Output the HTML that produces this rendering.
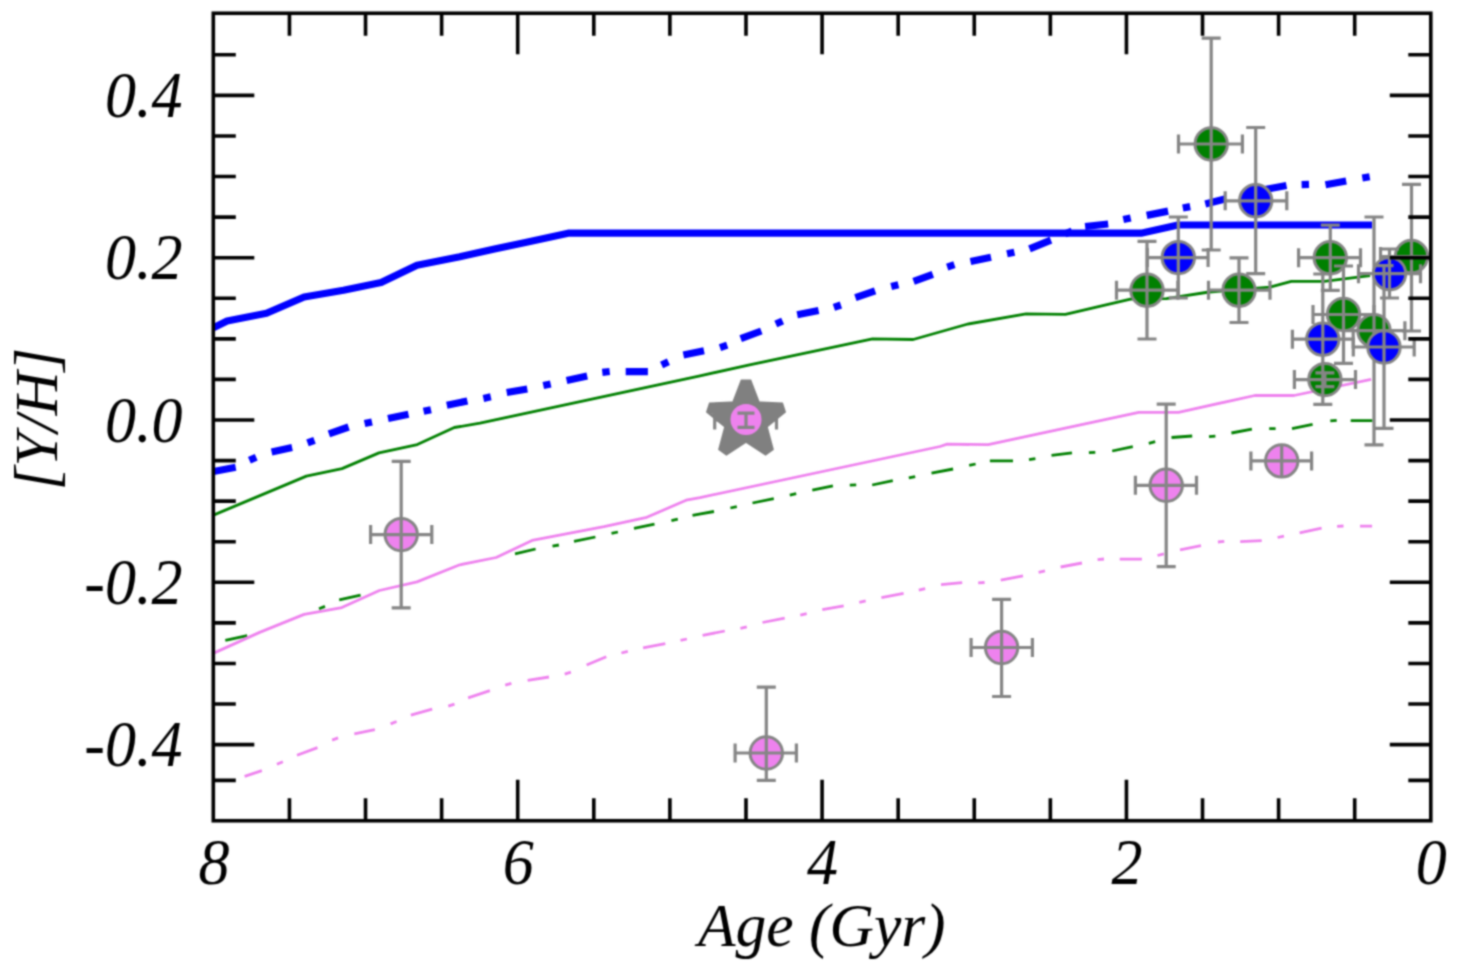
<!DOCTYPE html>
<html><head><meta charset="utf-8"><style>
html,body{margin:0;padding:0;background:#fff;overflow:hidden}
svg{display:block}
text{font-family:'Liberation Serif',serif;font-style:italic;fill:#000}
</style></head><body>
<svg width="1461" height="971" viewBox="0 0 1461 971">
<defs><filter id="bl" x="0" y="0" width="1461" height="971" filterUnits="userSpaceOnUse" color-interpolation-filters="sRGB"><feConvolveMatrix order="5" kernelMatrix="0.00048 0.00501 0.01095 0.00501 0.00048 0.00501 0.05222 0.11405 0.05222 0.00501 0.01095 0.11405 0.24912 0.11405 0.01095 0.00501 0.05222 0.11405 0.05222 0.00501 0.00048 0.00501 0.01095 0.00501 0.00048" edgeMode="duplicate"/></filter></defs>
<rect width="1461" height="971" fill="#fff"/>
<g filter="url(#bl)">
<clipPath id="cp"><rect x="213.3" y="13.25" width="1217.5" height="807.5"/></clipPath>
<g clip-path="url(#cp)">
<path d="M213.3 327.8L227.1 321.0L266.5 313.3L304.1 297.0L343.5 290.2L381.1 282.5L417.0 265.3L459.8 256.8L494.5 249.0L525.3 242.5L568.1 233.2L1141.0 233.2L1178.0 225.0L1372.0 225.0" fill="none" stroke="#0000ff" stroke-width="7.2" stroke-linejoin="round"/>
<path d="M213.4 471.5L235.7 467.3M249.4 460.2L256.2 457.2M271.6 451.9L292.1 447.6M307.5 442.9L314.5 440.3M328.9 433.9L348.6 427.0M364.6 423.6L372.0 422.0M388.0 418.5L408.5 414.2M423.6 411.3L431.0 409.7M446.8 405.3L467.4 401.0M483.4 398.4L490.8 396.8M506.7 392.5L527.3 389.0M543.3 385.6L550.7 384.0M566.6 380.5L587.2 375.9M602.3 372.3L609.7 371.5M625.7 371.6L647.9 371.6M661.6 365.0L668.4 361.8M683.4 355.0L704.0 350.7M720.0 347.6L727.2 345.2M740.7 338.7L761.3 331.0M775.8 324.0L782.6 321.0M797.2 314.8L818.6 310.5M833.9 307.4L840.9 305.0M855.4 297.6L875.1 290.8M891.2 286.6L898.4 284.8M913.6 281.4L932.8 274.4M947.2 267.1L954.4 264.7M970.5 261.6L991.0 257.3M1007.0 253.8L1014.4 252.2M1029.5 248.8L1050.9 240.2M1065.0 233.9L1072.0 231.1M1085.1 226.5L1108.2 224.0M1123.3 219.6L1130.7 218.0M1146.7 215.4L1168.1 211.1M1182.8 208.0L1190.2 206.6M1205.3 203.9L1225.5 198.8M1241.3 195.4L1248.7 193.6M1265.0 189.5L1286.5 185.5M1301.6 184.6L1309.0 184.4M1325.5 184.8L1346.2 181.0M1362.3 178.0L1369.7 176.8" fill="none" stroke="#0000ff" stroke-width="7.2"/>
<path d="M214.1 514.9L306.4 476.1L342.0 468.6L379.0 452.9L417.3 444.6L454.3 427.5L480.0 423.2L700.0 375.8L748.4 365.2L872.5 338.8L913.2 339.5L967.9 324.0L1026.1 313.8L1065.4 314.3L1130.5 299.2L1166.4 298.6L1209.1 292.0L1270.0 287.1L1291.3 281.4L1324.1 281.4L1370.1 275.6" fill="none" stroke="#008000" stroke-width="2.8" stroke-linejoin="round"/>
<path d="M225.3 640.4L247.2 635.7M319.0 608.8L325.0 606.4M339.2 599.9L360.6 595.1M515.0 553.8L535.6 549.0M552.5 546.2L558.9 545.0M574.0 541.3L595.4 537.0M611.5 533.4L617.9 532.0M634.0 528.4L654.5 524.2M671.4 520.6L677.8 519.2M692.5 515.3L714.0 511.5M730.4 508.0L736.8 506.6M752.5 503.0L773.8 498.7M789.8 495.1L796.2 493.7M812.3 490.2L832.9 485.9M849.8 485.1L856.2 484.9M872.2 485.0L892.8 480.7M908.8 477.9L915.2 476.7M931.5 473.1L953.1 469.0M969.2 465.4L975.6 464.0M989.9 460.9L1013.0 460.9M1029.0 459.7L1035.4 458.7M1051.5 455.3L1072.0 452.9M1088.9 452.7L1095.3 452.3M1112.2 451.0L1132.8 446.7M1148.8 443.3L1155.2 441.7M1171.5 437.5L1192.2 436.0M1209.0 436.6L1215.4 436.2M1231.4 433.0L1251.9 429.1M1269.2 428.6L1275.6 428.6M1292.0 428.6L1312.6 424.3M1330.3 420.9L1336.7 420.3M1350.7 420.7L1372.4 420.7" fill="none" stroke="#008000" stroke-width="2.8"/>
<path d="M214.3 652.9L259.6 632.4L304.1 614.4L341.8 607.6L379.4 590.5L417.0 581.9L459.8 564.8L496.2 557.5L532.1 540.4L604.0 526.7L646.8 517.3L686.1 500.2L700.0 497.6L940.0 446.5L947.1 444.2L988.2 444.7L1138.8 412.3L1178.5 412.3L1254.8 395.5L1294.0 395.5L1371.2 379.3" fill="none" stroke="#ee82ee" stroke-width="2.8" stroke-linejoin="round"/>
<path d="M244.6 776.3L261.9 770.7M276.9 764.3L282.9 761.7M297.0 755.3L317.5 747.6M332.1 740.1L338.1 737.9M354.3 733.9L374.9 729.6M390.6 723.9L396.6 721.5M410.8 715.1L432.2 709.1M448.3 706.2L454.5 704.2M468.1 697.9L489.9 690.7M505.2 685.1L511.4 683.3M527.6 680.4L549.0 677.0M564.7 674.1L570.9 672.1M586.6 665.0L606.3 656.8M621.4 653.0L627.8 651.4M643.1 647.9L665.3 643.6M680.5 640.4L686.9 639.0M702.6 635.3L724.8 631.0M740.4 628.3L746.8 626.9M762.5 622.5L784.7 618.2M800.3 615.1L806.7 613.7M822.3 609.6L843.7 605.9M859.3 602.3L865.7 600.9M881.4 597.6L903.6 593.4M918.8 590.1L925.2 588.7M941.0 584.6L962.2 582.7M978.2 582.9L984.6 582.5M1000.7 580.2L1023.0 575.9M1038.6 572.3L1045.0 570.9M1060.6 567.0L1082.0 563.0M1097.6 559.6L1104.0 559.0M1119.7 559.1L1141.9 559.1M1157.5 555.5L1163.9 553.9M1180.0 549.8L1201.0 545.6M1217.9 542.0L1224.3 541.4M1240.2 541.7L1261.7 540.7M1277.6 537.5L1284.0 536.1M1299.6 532.8L1321.6 528.2M1337.1 526.4L1343.5 526.0M1360.0 526.2L1372.1 526.2" fill="none" stroke="#ee82ee" stroke-width="2.8"/>
<circle cx="1211.2" cy="144" r="16.2" fill="#008000" stroke="#858585" stroke-width="3.0"/>
<path d="M1178.5 144.0H1242.4M1178.5 134.5V153.5M1242.4 134.5V153.5M1211.2 38.1V250.0M1201.7 38.1H1220.7M1201.7 250.0H1220.7" fill="none" stroke="#858585" stroke-width="3.2"/>
<circle cx="1147" cy="290.2" r="16.2" fill="#008000" stroke="#858585" stroke-width="3.0"/>
<path d="M1116.5 290.2H1177.9M1116.5 280.7V299.7M1177.9 280.7V299.7M1147.0 241.4V339.0M1137.5 241.4H1156.5M1137.5 339.0H1156.5" fill="none" stroke="#858585" stroke-width="3.2"/>
<circle cx="1239" cy="290.2" r="16.2" fill="#008000" stroke="#858585" stroke-width="3.0"/>
<path d="M1208.5 290.2H1270.0M1208.5 280.7V299.7M1270.0 280.7V299.7M1239.0 257.9V322.5M1229.5 257.9H1248.5M1229.5 322.5H1248.5" fill="none" stroke="#858585" stroke-width="3.2"/>
<circle cx="1330.3" cy="257.7" r="16.2" fill="#008000" stroke="#858585" stroke-width="3.0"/>
<path d="M1298.6 257.7H1360.5M1298.6 248.2V267.2M1360.5 248.2V267.2M1330.3 225.2V290.4M1320.8 225.2H1339.8M1320.8 290.4H1339.8" fill="none" stroke="#858585" stroke-width="3.2"/>
<circle cx="1411.5" cy="256.5" r="16.2" fill="#008000" stroke="#858585" stroke-width="3.0"/>
<path d="M1380.5 256.5H1442.0M1380.5 247.0V266.0M1442.0 247.0V266.0M1411.5 184.3V331.0M1402.0 184.3H1421.0M1402.0 331.0H1421.0" fill="none" stroke="#858585" stroke-width="3.2"/>
<circle cx="1343.5" cy="314.5" r="16.2" fill="#008000" stroke="#858585" stroke-width="3.0"/>
<path d="M1313.0 314.5H1374.0M1313.0 305.0V324.0M1374.0 305.0V324.0M1343.5 266.0V363.4M1334.0 266.0H1353.0M1334.0 363.4H1353.0" fill="none" stroke="#858585" stroke-width="3.2"/>
<circle cx="1374" cy="330.7" r="16.2" fill="#008000" stroke="#858585" stroke-width="3.0"/>
<path d="M1343.5 330.7H1404.9M1343.5 321.2V340.2M1404.9 321.2V340.2M1374.0 217.0V444.9M1364.5 217.0H1383.5M1364.5 444.9H1383.5" fill="none" stroke="#858585" stroke-width="3.2"/>
<circle cx="1324.9" cy="379.6" r="16.2" fill="#008000" stroke="#858585" stroke-width="3.0"/>
<path d="M1294.4 379.6H1355.5M1294.4 370.1V389.1M1355.5 370.1V389.1M1324.9 372.8V386.7M1315.4 372.8H1334.4M1315.4 386.7H1334.4" fill="none" stroke="#858585" stroke-width="3.2"/>
<circle cx="1255.7" cy="200.8" r="16.2" fill="#0000ff" stroke="#858585" stroke-width="3.0"/>
<path d="M1225.2 200.8H1286.8M1225.2 191.3V210.3M1286.8 191.3V210.3M1255.7 127.5V273.7M1246.2 127.5H1265.2M1246.2 273.7H1265.2" fill="none" stroke="#858585" stroke-width="3.2"/>
<circle cx="1178.3" cy="257.6" r="16.2" fill="#0000ff" stroke="#858585" stroke-width="3.0"/>
<path d="M1147.4 257.6H1208.1M1147.4 248.1V267.1M1208.1 248.1V267.1M1178.3 217.0V297.8M1168.8 217.0H1187.8M1168.8 297.8H1187.8" fill="none" stroke="#858585" stroke-width="3.2"/>
<circle cx="1389.5" cy="273.7" r="16.2" fill="#0000ff" stroke="#858585" stroke-width="3.0"/>
<path d="M1358.5 273.7H1420.5M1358.5 264.2V283.2M1420.5 264.2V283.2M1389.5 249.0V298.0M1380.0 249.0H1399.0M1380.0 298.0H1399.0" fill="none" stroke="#858585" stroke-width="3.2"/>
<circle cx="1322.8" cy="339.2" r="16.2" fill="#0000ff" stroke="#858585" stroke-width="3.0"/>
<path d="M1292.4 339.2H1353.2M1292.4 329.7V348.7M1353.2 329.7V348.7M1322.8 274.0V404.3M1313.3 274.0H1332.3M1313.3 404.3H1332.3" fill="none" stroke="#858585" stroke-width="3.2"/>
<circle cx="1384" cy="347" r="16.2" fill="#0000ff" stroke="#858585" stroke-width="3.0"/>
<path d="M1353.3 347.0H1414.2M1353.3 337.5V356.5M1414.2 337.5V356.5M1384.0 265.6V428.4M1374.5 265.6H1393.5M1374.5 428.4H1393.5" fill="none" stroke="#858585" stroke-width="3.2"/>
<circle cx="401.2" cy="534.6" r="16.2" fill="#ee82ee" stroke="#858585" stroke-width="3.0"/>
<path d="M370.6 534.6H431.8M370.6 525.1V544.1M431.8 525.1V544.1M401.2 461.3V607.8M391.7 461.3H410.7M391.7 607.8H410.7" fill="none" stroke="#858585" stroke-width="3.2"/>
<circle cx="1166.2" cy="485.3" r="16.2" fill="#ee82ee" stroke="#858585" stroke-width="3.0"/>
<path d="M1135.4 485.3H1196.5M1135.4 475.8V494.8M1196.5 475.8V494.8M1166.2 404.1V566.7M1156.7 404.1H1175.7M1156.7 566.7H1175.7" fill="none" stroke="#858585" stroke-width="3.2"/>
<circle cx="1281.7" cy="460.9" r="16.2" fill="#ee82ee" stroke="#858585" stroke-width="3.0"/>
<path d="M1250.9 460.9H1311.6M1250.9 451.4V470.4M1311.6 451.4V470.4M1281.7 445.9V475.9" fill="none" stroke="#858585" stroke-width="3.2"/>
<circle cx="1001.6" cy="647.5" r="16.2" fill="#ee82ee" stroke="#858585" stroke-width="3.0"/>
<path d="M971.1 647.5H1032.4M971.1 638.0V657.0M1032.4 638.0V657.0M1001.6 599.4V696.5M992.1 599.4H1011.1M992.1 696.5H1011.1" fill="none" stroke="#858585" stroke-width="3.2"/>
<circle cx="766.3" cy="753" r="16.2" fill="#ee82ee" stroke="#858585" stroke-width="3.0"/>
<path d="M735.1 753.0H796.4M735.1 743.5V762.5M796.4 743.5V762.5M766.3 687.1V780.4M756.8 687.1H775.8M756.8 780.4H775.8" fill="none" stroke="#858585" stroke-width="3.2"/>
<path d="M714.7 420.0H776.5M714.7 410.5V429.5M776.5 410.5V429.5" stroke="#858585" stroke-width="3.2" fill="none"/>
<path d="M746.0 381.5L755.7 406.7L782.6 408.1L761.7 425.1L768.6 451.1L746.0 436.5L723.4 451.1L730.3 425.1L709.4 408.1L736.3 406.7Z" fill="#808080" stroke="#808080" stroke-width="11" stroke-linejoin="bevel"/>
<circle cx="746.0" cy="419.5" r="15.5" fill="#ee82ee"/>
<path d="M746.0 413.2V427.4M737.5 413.2H754.5M737.5 427.4H754.5" stroke="#858585" stroke-width="3.2" fill="none"/>
</g>
<rect x="213.3" y="13.25" width="1217.5" height="807.5" fill="none" stroke="#000" stroke-width="3.6"/>
<path d="M1354.71 820.7v-22.5M1354.71 13.25v22.5M1278.62 820.7v-22.5M1278.62 13.25v22.5M1202.53 820.7v-22.5M1202.53 13.25v22.5M1126.44 820.7v-41M1126.44 13.25v41M1050.35 820.7v-22.5M1050.35 13.25v22.5M974.26 820.7v-22.5M974.26 13.25v22.5M898.17 820.7v-22.5M898.17 13.25v22.5M822.08 820.7v-41M822.08 13.25v41M745.99 820.7v-22.5M745.99 13.25v22.5M669.90 820.7v-22.5M669.90 13.25v22.5M593.81 820.7v-22.5M593.81 13.25v22.5M517.72 820.7v-41M517.72 13.25v41M441.63 820.7v-22.5M441.63 13.25v22.5M365.54 820.7v-22.5M365.54 13.25v22.5M289.45 820.7v-22.5M289.45 13.25v22.5M213.3 780.40h22.5M1430.8 780.40h-22.5M213.3 744.64h41M1430.8 744.64h-41M213.3 704.06h22.5M1430.8 704.06h-22.5M213.3 663.48h22.5M1430.8 663.48h-22.5M213.3 622.90h22.5M1430.8 622.90h-22.5M213.3 582.32h41M1430.8 582.32h-41M213.3 541.74h22.5M1430.8 541.74h-22.5M213.3 501.16h22.5M1430.8 501.16h-22.5M213.3 460.58h22.5M1430.8 460.58h-22.5M213.3 420.00h41M1430.8 420.00h-41M213.3 379.42h22.5M1430.8 379.42h-22.5M213.3 338.84h22.5M1430.8 338.84h-22.5M213.3 298.26h22.5M1430.8 298.26h-22.5M213.3 257.68h41M1430.8 257.68h-41M213.3 217.10h22.5M1430.8 217.10h-22.5M213.3 176.52h22.5M1430.8 176.52h-22.5M213.3 135.94h22.5M1430.8 135.94h-22.5M213.3 95.36h41M1430.8 95.36h-41M213.3 54.78h22.5M1430.8 54.78h-22.5" stroke="#000" stroke-width="3.6" fill="none"/>
<text transform="translate(182.5 116.9) scale(0.94 1)" text-anchor="end" font-size="66">0.4</text>
<text transform="translate(182.5 279.2) scale(0.94 1)" text-anchor="end" font-size="66">0.2</text>
<text transform="translate(182.5 441.5) scale(0.94 1)" text-anchor="end" font-size="66">0.0</text>
<text transform="translate(182.5 603.8) scale(0.94 1)" text-anchor="end" font-size="66">-0.2</text>
<text transform="translate(182.5 766.1) scale(0.94 1)" text-anchor="end" font-size="66">-0.4</text>
<text transform="translate(213.9 884) scale(0.94 1)" text-anchor="middle" font-size="66">8</text>
<text transform="translate(518.2 884) scale(0.94 1)" text-anchor="middle" font-size="66">6</text>
<text transform="translate(822.6 884) scale(0.94 1)" text-anchor="middle" font-size="66">4</text>
<text transform="translate(1126.9 884) scale(0.94 1)" text-anchor="middle" font-size="66">2</text>
<text transform="translate(1431.3 884) scale(0.94 1)" text-anchor="middle" font-size="66">0</text>
<text x="821.8" y="945.8" text-anchor="middle" font-size="61.5">Age (Gyr)</text>
<text transform="translate(57 419) rotate(-90)" text-anchor="middle" font-size="61">[Y/H]</text>
</g>
</svg>
</body></html>
